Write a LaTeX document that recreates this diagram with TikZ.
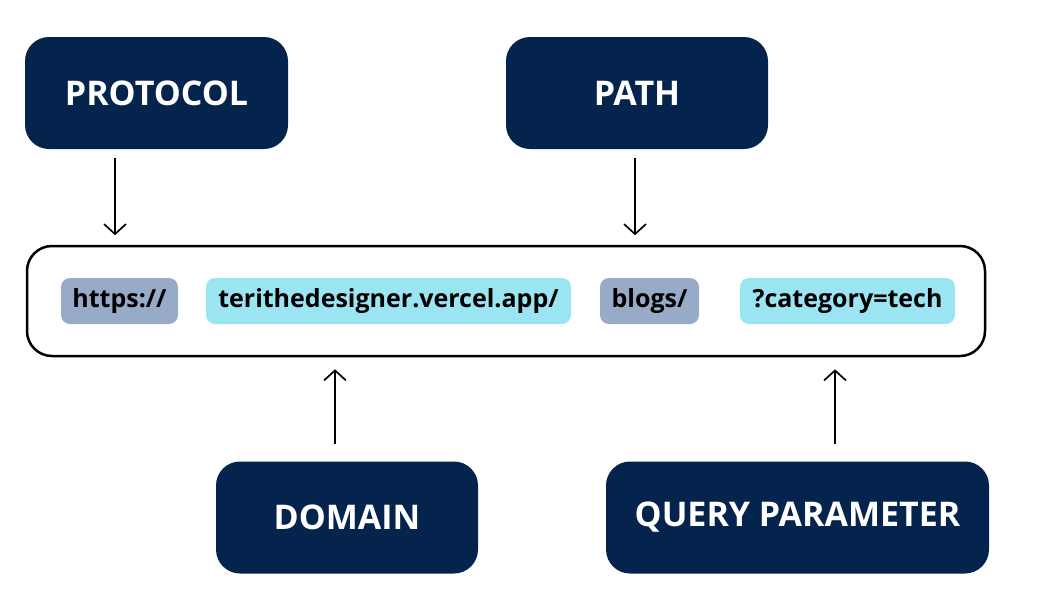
\documentclass[tikz,border=0pt]{standalone}
\usepackage{fontspec}
\setmainfont{Open Sans}
\usepackage{xcolor}
\usetikzlibrary{positioning,arrows.meta}
\definecolor{navy}{HTML}{04234D}
\definecolor{slate}{HTML}{97AAC7}
\definecolor{sky}{HTML}{9AE5F1}
\begin{document}
\begin{tikzpicture}[x=1pt,y=-1pt,>={Straight Barb[length=10pt,width=22pt]},
  lbl/.style={fill=navy,text=white,rounded corners=24pt,minimum height=112pt,font=\fontsize{34}{40}\selectfont\bfseries},
  pill/.style={rounded corners=9pt,minimum height=46pt,inner sep=0pt,font=\fontsize{25}{30}\selectfont\bfseries},
  arr/.style={->,line width=1.7pt}]
\useasboundingbox (0,0) rectangle (1050,600);
\node[lbl,minimum width=263pt] (proto) at (156.5,93) {PROTOCOL};
\node[lbl,minimum width=262pt] (path) at (637,93) {PATH};
\node[lbl,minimum width=262pt] (dom) at (347,517.5) {DOMAIN};
\node[lbl,minimum width=383pt] (query) at (797.5,517.5) {QUERY PARAMETER};
\node[draw,line width=2.5pt,rounded corners=25pt,minimum width=958pt,minimum height=110pt] (url) at (506,301) {};
% parts of the address
\node[pill,fill=slate,minimum width=117pt] (protoP) at (119.5,301) {https://};
\node[pill,fill=sky,minimum width=365pt] (domP) at (388.5,301) {terithedesigner.vercel.app/};
\node[pill,fill=slate,minimum width=99pt] (pathP) at (649.5,301) {blogs/};
\node[pill,fill=sky,minimum width=215pt] (queryP) at (847.5,301) {?category=tech};
% arrows
\draw[arr] ([xshift=-41.5pt,yshift=-9pt]proto.south) -- ++(0,77);
\draw[arr] ([xshift=-2pt,yshift=-9pt]path.south) -- ++(0,77);
\draw[arr] ([xshift=-12pt,yshift=17pt]dom.north) -- ++(0,-75);
\draw[arr] ([xshift=37.5pt,yshift=17pt]query.north) -- ++(0,-75);
\end{tikzpicture}
\end{document}
